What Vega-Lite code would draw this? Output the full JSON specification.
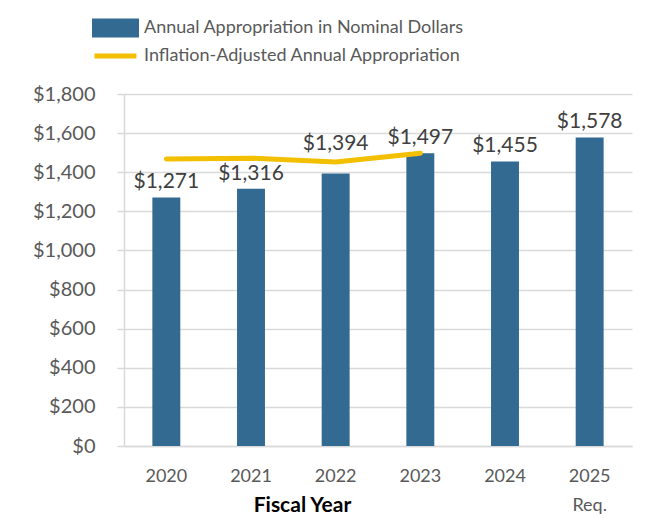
{
  "$schema": "https://vega.github.io/schema/vega-lite/v6.json",
  "width": 508,
  "height": 352,
  "autosize": {"type": "none"},
  "padding": {"left": 124, "top": 94, "right": 20, "bottom": 77},
  "background": "white",
  "config": {
    "font": "Lato",
    "view": {"stroke": null},
    "axis": {"labelFont": "Lato", "titleFont": "Lato"},
    "axisY": {
      "title": null,
      "values": [0, 200, 400, 600, 800, 1000, 1200, 1400, 1600, 1800],
      "format": "$,d",
      "labelFontSize": 20,
      "labelColor": "#595959",
      "labelPadding": 22,
      "labelOverlap": false,
      "labelBound": false,
      "tickSize": 7,
      "tickColor": "#d9d9d9",
      "tickWidth": 1.5,
      "domainColor": "#d9d9d9",
      "domainWidth": 1.5,
      "gridColor": "#d9d9d9",
      "gridWidth": 1.5
    }
  },
  "data": {
    "values": [
      {"year": "2020", "nominal": 1271, "adjusted": 1468},
      {"year": "2021", "nominal": 1316, "adjusted": 1472},
      {"year": "2022", "nominal": 1394, "adjusted": 1452},
      {"year": "2023", "nominal": 1497, "adjusted": 1497},
      {"year": "2024", "nominal": 1455, "adjusted": null},
      {"year": "2025", "nominal": 1578, "adjusted": null}
    ]
  },
  "encoding": {
    "x": {
      "field": "year",
      "type": "ordinal",
      "scale": {"paddingInner": 0.67, "paddingOuter": 0.335},
      "axis": {
        "title": "Fiscal Year",
        "titleFontWeight": "bold",
        "titleFontSize": 21,
        "titleColor": "#000000",
        "titleX": 178,
        "titleY": 59,
        "titleBaseline": "middle",
        "labelAngle": 0,
        "labelFontSize": 18,
        "labelColor": "#595959",
        "labelPadding": 21,
        "labelLineHeight": 29,
        "labelBaseline": "top",
        "labelOverlap": false,
        "labelExpr": "datum.value == '2025' ? ['2025', 'Req.'] : datum.value",
        "ticks": false,
        "domainColor": "#d9d9d9",
        "domainWidth": 1.5
      }
    }
  },
  "layer": [
    {
      "mark": {"type": "bar"},
      "encoding": {
        "y": {
          "field": "nominal",
          "type": "quantitative",
          "scale": {"domain": [0, 1800], "nice": false},
          "axis": {"values": [0, 200, 400, 600, 800, 1000, 1200, 1400, 1600, 1800], "labelOverlap": false}
        },
        "color": {
          "datum": "Annual Appropriation in Nominal Dollars",
          "type": "nominal",
          "scale": {
            "domain": ["Annual Appropriation in Nominal Dollars", "Inflation-Adjusted Annual Appropriation"],
            "range": ["#336a92", "#f2c000"]
          },
          "legend": {
            "title": null,
            "orient": "none",
            "legendX": -32,
            "legendY": -80,
            "direction": "vertical",
            "padding": 0,
            "labelFontSize": 18,
            "labelColor": "#595959",
            "labelOffset": 5,
            "labelLimit": 500,
            "symbolSize": 1764,
            "clipHeight": 28,
            "rowPadding": 0,
            "encode": {
              "symbols": {
                "update": {
                  "shape": {"signal": "datum.value == 'Annual Appropriation in Nominal Dollars' ? 'M-1,-0.33H1V0.33H-1Z' : 'M-1,0H1'"},
                  "fill": {"signal": "datum.value == 'Annual Appropriation in Nominal Dollars' ? '#336a92' : 'transparent'"},
                  "stroke": {"signal": "datum.value == 'Annual Appropriation in Nominal Dollars' ? 'transparent' : '#f2c000'"},
                  "strokeWidth": {"value": 5},
                  "opacity": {"value": 1}
                }
              }
            }
          }
        }
      }
    },
    {
      "transform": [{"filter": "isValid(datum.adjusted)"}],
      "mark": {"type": "line", "strokeWidth": 5, "strokeCap": "round", "strokeJoin": "round"},
      "encoding": {
        "y": {"field": "adjusted", "type": "quantitative", "axis": {"values": [0, 200, 400, 600, 800, 1000, 1200, 1400, 1600, 1800], "labelOverlap": false}},
        "color": {"datum": "Inflation-Adjusted Annual Appropriation", "type": "nominal"}
      }
    },
    {
      "transform": [{"filter": "datum.year != '2022'"}],
      "mark": {"type": "text", "fontSize": 21, "color": "#404040", "baseline": "middle", "dy": -15},
      "encoding": {
        "y": {"field": "nominal", "type": "quantitative", "axis": {"values": [0, 200, 400, 600, 800, 1000, 1200, 1400, 1600, 1800], "labelOverlap": false}},
        "text": {"field": "nominal", "type": "quantitative", "format": "$,d"}
      }
    },
    {
      "transform": [{"filter": "datum.year == '2022'"}],
      "mark": {"type": "text", "fontSize": 21, "color": "#404040", "baseline": "middle", "dy": -29},
      "encoding": {
        "y": {"field": "nominal", "type": "quantitative", "axis": {"values": [0, 200, 400, 600, 800, 1000, 1200, 1400, 1600, 1800], "labelOverlap": false}},
        "text": {"field": "nominal", "type": "quantitative", "format": "$,d"}
      }
    }
  ]
}
